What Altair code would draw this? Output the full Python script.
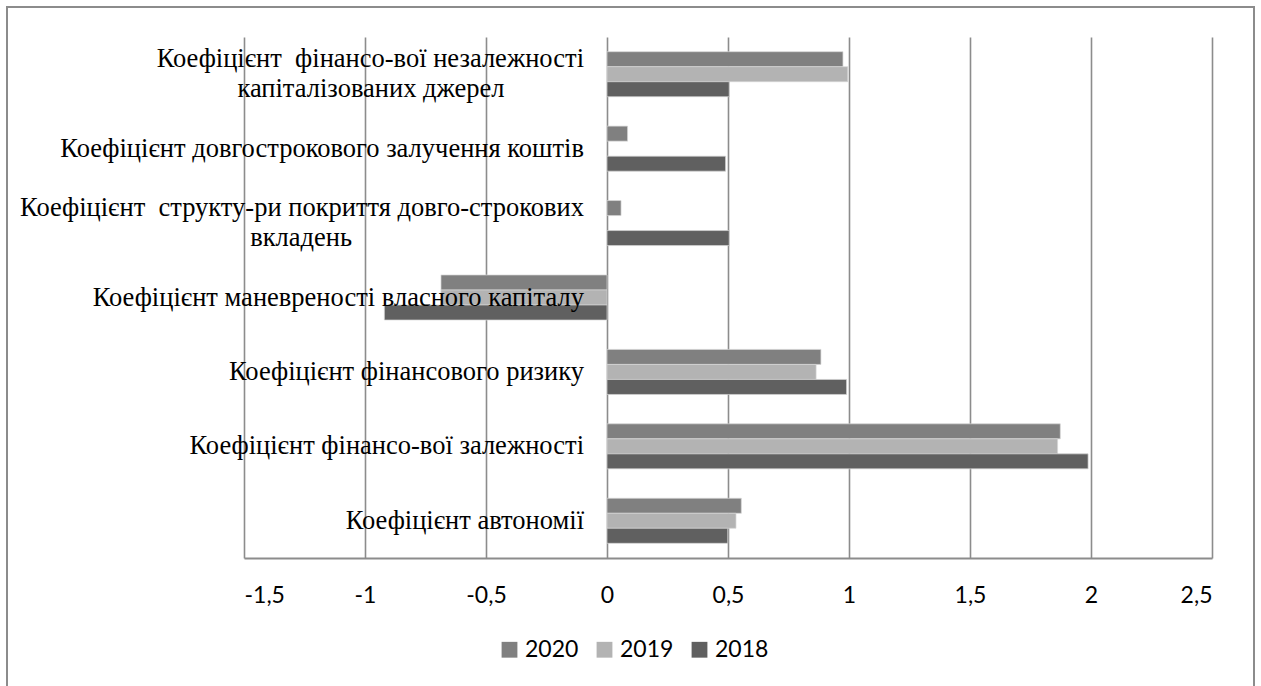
import altair as alt
import pandas as pd

NB = "\u00a0"
WJ = "\u2060"

cat_keys = ["c1", "c2", "c3", "c4", "c5", "c6", "c7"]
cat_labels = [
    "Коефіцієнт " + NB + "фінансо-вої незалежності\nкапіталізованих джерел" + NB * 12 + WJ,
    "Коефіцієнт довгострокового залучення коштів",
    "Коефіцієнт " + NB + "структу-ри покриття довго-строкових\nвкладень" + NB * 35 + WJ,
    "Коефіцієнт маневреності власного капіталу",
    "Коефіцієнт фінансового ризику",
    "Коефіцієнт фінансо-вої залежності",
    "Коефіцієнт автономії",
]
cat_lines = [2, 1, 2, 1, 1, 1, 1]

years = ["2020", "2019", "2018"]
colors = ["#808080", "#b3b3b3", "#606060"]

v2020 = [0.975, 0.085, 0.058, -0.686, 0.884, 1.873, 0.555]
v2019 = [0.995, None, None, -0.686, 0.864, 1.862, 0.533]
v2018 = [0.505, 0.49, 0.505, -0.92, 0.99, 1.988, 0.499]

x_ticks = [-1.5, -1, -0.5, 0, 0.5, 1, 1.5, 2, 2.5]

rows = []
for i, c in enumerate(cat_keys):
    for yr, vals in zip(years, [v2020, v2019, v2018]):
        if vals[i] is not None:
            rows.append({"cat": c, "year": yr, "value": vals[i]})
bars_df = pd.DataFrame(rows)
labels_df = pd.DataFrame({"cat": cat_keys, "label": cat_labels, "lines": cat_lines})
frame_df = pd.DataFrame({"k": [0]})

SERIF = "Liberation Serif"
FS = 26.5
LH = 30

y_enc = alt.Y(
    "cat:N",
    sort=cat_keys,
    scale=alt.Scale(domain=cat_keys, paddingInner=0.395, paddingOuter=0.1975),
    axis=None,
)

x_scale = alt.Scale(domain=[-1.5, 2.5], nice=False, zero=False)

bars = alt.Chart(bars_df).mark_bar(stroke="#d6d6d6", strokeWidth=0.7).encode(
    x=alt.X(
        "value:Q",
        scale=x_scale,
        axis=alt.Axis(
            values=x_ticks,
            labelExpr="replace(toString(datum.value), '.', ',')",
            title=None,
            grid=True,
            gridColor="#8c8c8c",
            gridWidth=1.6,
            domainColor="#8c8c8c",
            domainWidth=2,
            ticks=False,
            labelFont="Lato",
            labelFontSize=23,
            labelColor="black",
            labelPadding=26,
        ),
    ),
    y=y_enc,
    yOffset=alt.YOffset("year:N", sort=years, scale=alt.Scale(domain=years, paddingInner=0, paddingOuter=0)),
    color=alt.Color(
        "year:N",
        scale=alt.Scale(domain=years, range=colors),
        legend=alt.Legend(
            orient="none",
            legendX=254,
            legendY=601,
            direction="horizontal",
            title=None,
            symbolType="square",
            symbolSize=250,
            symbolStrokeWidth=0,
            labelFont="Lato",
            labelFontSize=23,
            labelColor="black",
            labelOffset=4,
            columnPadding=14,
        ),
    ),
)

text_base = alt.Chart(labels_df).encode(
    x=alt.datum(0),
    y=y_enc,
    text=alt.Text("label:N"),
)

texts_single = text_base.transform_filter("datum.lines == 1").mark_text(
    align="right",
    baseline="middle",
    dx=-23,
    font=SERIF,
    fontSize=FS,
    color="black",
)

texts_multi = text_base.transform_filter("datum.lines == 2").mark_text(
    align="right",
    baseline="middle",
    dx=-23,
    dy=-LH / 2,
    font=SERIF,
    fontSize=FS,
    lineBreak="\n",
    lineHeight=LH,
    color="black",
)

frame = alt.Chart(frame_df).mark_rect(
    fill="transparent", stroke="#8c8c8c", strokeWidth=2
).encode(
    x=alt.value(-237),
    x2=alt.value(1010),
    y=alt.value(-30),
    y2=alt.value(720),
)

chart = (
    alt.layer(frame, bars, texts_single, texts_multi)
    .properties(
        width=968,
        height=521,
        autosize=alt.AutoSizeParams(type="none"),
        padding={"left": 244, "top": 37, "right": 49, "bottom": 128},
        background="white",
    )
    .configure_view(stroke=None)
)

chart.save("out.html", embed_options={"renderer": "svg", "actions": False})
